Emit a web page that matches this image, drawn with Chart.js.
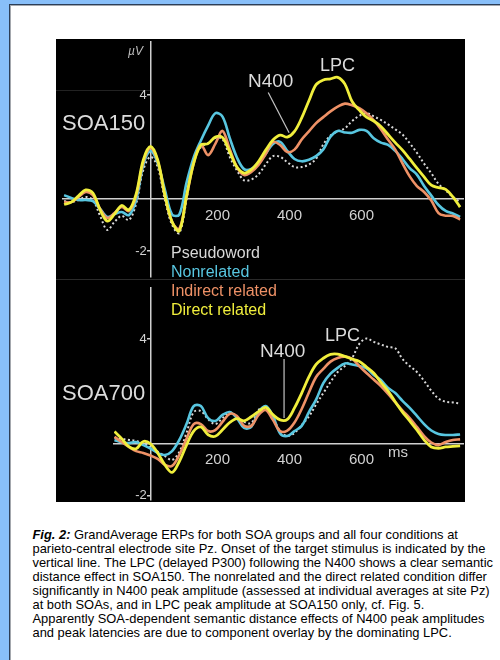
<!DOCTYPE html>
<html>
<head>
<meta charset="utf-8">
<script src="https://cdn.jsdelivr.net/npm/chart.js@4.4.1/dist/chart.umd.min.js"></script>
<style>
  html, body { margin: 0; padding: 0; }
  body { width: 500px; height: 660px; overflow: hidden; background: #88bff9; position: relative; font-family: "Liberation Sans", Arial, sans-serif; }
  .sheet { position: absolute; left: 9px; top: 4px; width: 520px; height: 700px; background: #fff;
           border-left: 1px solid #2c3e57; border-top: 1px solid #2c3e57; box-shadow: inset 1px 1px 0 #a4a8ae; }
  .panel { position: absolute; left: 56px; top: 39px; width: 409px; height: 463px; background: #000; }
  .sep { position: absolute; height: 1px; background: #2a2a2a; }
  .box { position: absolute; }
  .lbl { position: absolute; white-space: nowrap; line-height: 1; color: #dcdcdc; }
  .legend { position: absolute; left: 171px; top: 242.5px; font-size: 16px; line-height: 19px; white-space: nowrap; }
  .caption { position: absolute; left: 32.5px; top: 528px; font-size: 12.9px; line-height: 14px; color: #000; white-space: nowrap; }
</style>
</head>
<body>
<div class="sheet"></div>
<div class="panel"></div>
<div class="sep" style="left:56px; top:279px; width:409px;"></div>
<div class="sep" style="left:56px; top:90px; width:94px; background:#222;"></div>

<div class="box" style="left:51px; top:30px; width:424px; height:259px;"><canvas id="soa150"></canvas></div>
<div class="box" style="left:102px; top:276px; width:373px; height:236px;"><canvas id="soa700"></canvas></div>

<div class="lbl" style="left:128px; top:45px; font-size:12px; font-style:italic; color:#bdbdbd;">µV</div>
<div class="lbl" style="left:62px; top:112px; font-size:22px;">SOA150</div>
<div class="lbl" style="left:248px; top:71px; font-size:19px;">N400</div>
<div class="lbl" style="left:320px; top:56px; font-size:18px;">LPC</div>
<div class="lbl" style="left:62px; top:382px; font-size:22px;">SOA700</div>
<div class="lbl" style="left:260px; top:341px; font-size:19px;">N400</div>
<div class="lbl" style="left:325px; top:326px; font-size:18px;">LPC</div>
<div class="lbl" style="left:388px; top:444px; font-size:15px; color:#d0d0d0;">ms</div>

<div class="legend" id="legend"></div>

<div class="caption">
<b><i>Fig. 2:</i></b> GrandAverage ERPs for both SOA groups and all four conditions at<br>
parieto-central electrode site Pz. Onset of the target stimulus is indicated by the<br>
vertical line. The LPC (delayed P300) following the N400 shows a clear semantic<br>
distance effect in SOA150. The nonrelated and the direct related condition differ<br>
significantly in N400 peak amplitude (assessed at individual averages at site Pz)<br>
at both SOAs, and in LPC peak amplitude at SOA150 only, cf. Fig. 5.<br>
Apparently SOA-dependent semantic distance effects of N400 peak amplitudes<br>
and peak latencies are due to component overlay by the dominating LPC.
</div>

<script>
// conditions (legend order)
const conditions = ['Pseudoword', 'Nonrelated', 'Indirect related', 'Direct related'];

// time axis (ms) for each SOA group
const timesSoa150 = [-240, -220, -200, -180, -160, -140, -120, -100, -80, -60,
  -40, -20, 0, 20, 40, 60, 80, 100, 120, 140,
  160, 180, 200, 220, 240, 260, 280, 300, 320, 340,
  360, 380, 400, 420, 440, 460, 480, 500, 520, 540,
  560, 580, 600, 620, 640, 660, 680, 700, 720, 740,
  760, 780, 800, 820, 840, 860];
const timesSoa700 = [-100, -80, -60, -40, -20, 0, 20, 40, 60, 80,
  100, 120, 140, 160, 180, 200, 220, 240, 260, 280,
  300, 320, 340, 360, 380, 400, 420, 440, 460, 480,
  500, 520, 540, 560, 580, 600, 620, 640, 660, 680,
  700, 720, 740, 760, 780, 800, 820, 840, 860];

// SOA150 amplitudes (µV, positive up)
const soa150Pseudo = [-0.08, -0.12, -0.04, 0.08, -0.04, -0.65, -1.19, -0.88, -0.65, -0.81,
  -0.19, 1.12, 1.62, 1.23, -0.04, -1.0, -1.31, -0.04, 1.5, 2.0,
  2.15, 2.35, 2.3, 1.62, 1.1, 0.72, 0.75, 0.95, 1.33, 1.65,
  1.62, 1.42, 1.23, 1.23, 1.33, 1.55, 2.1, 2.44, 2.6, 2.72,
  3.0, 3.2, 3.3, 3.18, 3.04, 2.87, 2.68, 2.48, 2.15, 1.78,
  1.36, 0.99, 0.58, 0.33, 0.08, -0.11];
const soa150Nonrel = [0.15, 0.04, -0.04, -0.04, -0.08, -0.38, -0.69, -0.58, -0.5, -0.62,
  -0.04, 1.31, 1.85, 1.38, 0.35, -0.6, -0.6, 0.62, 1.6, 2.25,
  2.82, 3.3, 3.17, 2.35, 1.6, 1.15, 1.16, 1.4, 1.74, 2.12,
  2.2, 1.85, 1.54, 1.45, 1.51, 1.65, 1.91, 2.4, 2.62, 2.56,
  2.55, 2.66, 2.62, 2.34, 2.17, 2.08, 1.85, 1.54, 1.19, 0.94,
  0.5, 0.13, -0.23, -0.46, -0.56, -0.69];
const soa150Indirect = [-0.12, -0.12, 0.08, 0.27, 0.15, -0.38, -0.73, -0.54, -0.31, -0.46,
  0.12, 1.42, 1.96, 1.46, 0.15, -0.88, -1.15, 0.08, 1.38, 2.08,
  1.69, 2.12, 2.62, 1.92, 1.23, 0.92, 1.04, 1.31, 1.73, 2.19,
  2.08, 1.81, 1.9, 2.29, 2.6, 2.92, 3.15, 3.37, 3.55, 3.67,
  3.61, 3.5, 3.3, 3.03, 2.68, 2.28, 1.9, 1.37, 0.87, 0.5,
  0.27, -0.06, -0.54, -0.64, -0.65, -0.79];
const soa150Direct = [-0.21, -0.12, 0.12, 0.35, 0.23, -0.42, -0.85, -0.58, -0.25, -0.42,
  0.19, 1.5, 2.02, 1.5, 0.15, -0.88, -1.23, 0.12, 1.38, 2.08,
  2.13, 2.38, 2.37, 1.81, 1.23, 1.0, 1.13, 1.44, 1.88, 2.27,
  2.46, 2.38, 2.6, 3.12, 3.78, 4.4, 4.58, 4.62, 4.68, 4.42,
  3.75, 3.42, 3.15, 3.0, 2.79, 2.48, 2.17, 1.88, 1.54, 1.19,
  0.85, 0.53, 0.44, 0.37, 0.08, -0.31];

// SOA700 amplitudes (µV, positive up)
const soa700Pseudo = [0.19, 0.17, 0.13, 0.09, -0.01, -0.16, -0.32, -0.49, -0.64, -0.33,
  0.4, 1.2, 1.24, 0.93, 0.74, 0.97, 1.2, 1.01, 0.82, 0.78,
  1.28, 1.36, 0.97, 0.47, 0.28, 0.4, 0.7, 1.03, 1.49, 1.93,
  2.36, 2.74, 2.97, 3.28, 3.82, 4.03, 3.9, 3.8, 3.7, 3.65,
  3.24, 2.97, 2.74, 2.4, 2.02, 1.72, 1.6, 1.57, 1.53];
const soa700Nonrel = [0.13, 0.03, 0.01, 0.05, -0.07, -0.2, -0.37, -0.45, -0.3, 0.13,
  0.74, 1.43, 1.43, 0.97, 0.86, 1.09, 1.2, 0.97, 0.59, 0.63,
  1.2, 1.43, 1.05, 0.38, 0.28, 0.47, 0.67, 1.2, 1.68, 2.31,
  2.68, 2.9, 3.07, 3.03, 2.97, 2.88, 2.63, 2.43, 2.13, 1.93,
  1.63, 1.36, 1.05, 0.74, 0.49, 0.36, 0.32, 0.32, 0.34];
const soa700Indirect = [0.25, 0.05, -0.14, -0.3, -0.37, -0.47, -0.6, -0.83, -0.87, -0.45,
  0.17, 0.74, 0.74, 0.47, 0.51, 0.82, 1.13, 1.05, 0.67, 0.67,
  1.09, 1.28, 0.9, 0.47, 0.49, 0.8, 1.32, 1.95, 2.55, 2.86,
  3.14, 3.28, 3.33, 3.25, 2.97, 2.7, 2.45, 2.2, 1.9, 1.58,
  1.26, 0.97, 0.63, 0.28, 0.03, -0.07, 0.05, 0.13, 0.15];
const soa700Direct = [0.45, 0.18, -0.13, -0.21, 0.07, -0.02, -0.37, -0.83, -1.12, -0.7,
  -0.07, 0.47, 0.63, 0.33, 0.27, 0.52, 0.8, 0.95, 0.86, 1.02,
  1.22, 1.38, 1.1, 0.9, 0.92, 1.36, 1.93, 2.55, 3.03, 3.27,
  3.42, 3.43, 3.34, 3.24, 3.15, 2.93, 2.7, 2.34, 2.01, 1.59,
  1.2, 0.86, 0.51, 0.13, -0.14, -0.19, -0.14, -0.12, -0.1];

// axis ticks
const timeTicks = [200, 400, 600];
const voltTicks = [4, -2];

// N400 pointer lines [ms, µV] -> [ms, µV]
const pointerSoa150 = [[327, 4.1], [385, 2.55]];
const pointerSoa700 = [[371, 3.24], [371, 0.97]];

const colors = ['#d8d8d8', '#58c6e0', '#ee9166', '#f0ee3c'];
const widths = [2, 2.6, 2.6, 2.8];
const textColor = '#d2d2d2';
const fontFamily = '"Liberation Sans", Arial, sans-serif';

document.getElementById('legend').innerHTML = conditions
  .map((c, i) => '<div style="color:' + colors[i] + '">' + c + '</div>').join('');

const pointerPlugin = {
  id: 'pointer',
  afterDatasetsDraw(chart, args, opts) {
    const {ctx, scales: {x, y}} = chart;
    const [a, b] = opts.line;
    ctx.save();
    ctx.strokeStyle = '#c4c4c4';
    ctx.lineWidth = 1.2;
    ctx.beginPath();
    ctx.moveTo(x.getPixelForValue(a[0]), y.getPixelForValue(a[1]));
    ctx.lineTo(x.getPixelForValue(b[0]), y.getPixelForValue(b[1]));
    ctx.stroke();
    ctx.restore();
  }
};

function makePanel(id, times, series, xRange, yRange, pointer) {
  return new Chart(document.getElementById(id), {
    type: 'line',
    data: {
      datasets: series.map((vals, i) => ({
        label: conditions[i],
        data: times.map((t, k) => ({x: t, y: vals[k]})),
        borderColor: colors[i],
        borderWidth: widths[i],
        borderDash: i === 0 ? [2, 2.5] : [],
        pointRadius: 0,
        tension: 0.35,
        fill: false,
        order: 3 - i
      }))
    },
    options: {
      responsive: true,
      maintainAspectRatio: false,
      animation: false,
      layout: {padding: 12},
      plugins: {legend: {display: false}, tooltip: {enabled: false}, pointer: {line: pointer}},
      scales: {
        x: {
          type: 'linear', min: xRange[0], max: xRange[1],
          position: {y: 0},
          grid: {display: false},
          border: {color: '#cfcfcf', width: 1.5},
          ticks: {color: textColor, font: {family: fontFamily, size: 15}, padding: 0, labelOffset: -5, maxRotation: 0, autoSkip: false},
          afterBuildTicks: s => { s.ticks = timeTicks.map(v => ({value: v})); }
        },
        y: {
          type: 'linear', min: yRange[0], max: yRange[1],
          position: {x: 0},
          grid: {display: true, drawOnChartArea: false, drawTicks: true, tickLength: 3, color: '#cfcfcf', lineWidth: 1.5},
          border: {color: '#cfcfcf', width: 1.5},
          // labels of a value-positioned axis sit on the axis line; a thin space keeps them clear
          ticks: {color: textColor, font: {family: fontFamily, size: 13}, padding: 1, callback: v => v + '\u2009\u200a'},
          afterBuildTicks: s => { s.ticks = voltTicks.map(v => ({value: v})); }
        }
      }
    },
    plugins: [pointerPlugin]
  });
}

makePanel('soa150', timesSoa150,
  [soa150Pseudo, soa150Nonrel, soa150Indirect, soa150Direct],
  [-243.06, 868.06], [-3.0, 6.04], pointerSoa150);

makePanel('soa700', timesSoa700,
  [soa700Pseudo, soa700Nonrel, soa700Indirect, soa700Direct],
  [-101.39, 868.06], [-2.18, 5.97], pointerSoa700);
</script>
</body>
</html>
